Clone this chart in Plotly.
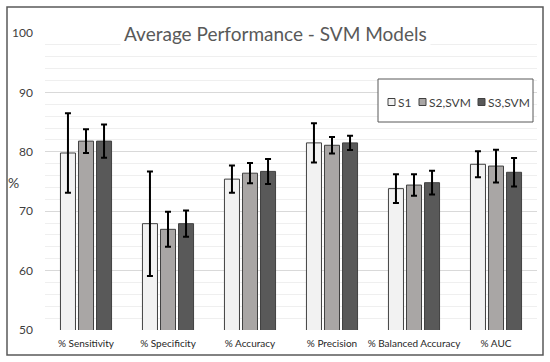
import plotly.graph_objects as go

categories = ["% Sensitivity", "% Specificity", "% Accuracy", "% Precision", "% Balanced Accuracy", "% AUC"]
series_names = ["S1", "S2,SVM", "S3,SVM"]
s1_values = [79.8, 67.9, 75.4, 81.5, 73.8, 77.9]
s1_errors = [6.7, 8.8, 2.3, 3.3, 2.4, 2.2]
s2_values = [81.8, 66.95, 76.4, 81.1, 74.4, 77.6]
s2_errors = [2.0, 2.95, 1.7, 1.4, 1.8, 2.75]
s3_values = [81.8, 67.9, 76.7, 81.5, 74.8, 76.55]
s3_errors = [2.8, 2.2, 2.1, 1.2, 2.0, 2.4]
y_ticks = [50, 60, 70, 80, 90, 100]

colors = ["#F2F2F2", "#A9A6A5", "#595959"]
values = [s1_values, s2_values, s3_values]
errors = [s1_errors, s2_errors, s3_errors]

fig = go.Figure()
for name, vals, errs, col in zip(series_names, values, errors, colors):
    fig.add_trace(go.Bar(
        name=name, x=categories, y=vals, showlegend=False,
        marker=dict(color=col, line=dict(color="#404040", width=1)),
        error_y=dict(type="data", array=errs, visible=True, color="#000000", thickness=2, width=3),
    ))

L, R, T, B = 45, 13, 33, 32
W, H = 550, 362
pw, ph = W - L - R, H - T - B

def px(x):
    return (x - L) / pw

def py(y):
    return (H - B - y) / ph

FONT = "Lato"

shapes = [
    dict(type="rect", xref="paper", yref="paper", x0=px(7), x1=px(543), y0=py(355), y1=py(7),
         line=dict(color="#595959", width=1.5), fillcolor="rgba(0,0,0,0)", layer="above"),
    dict(type="rect", xref="paper", yref="paper", x0=px(378), x1=px(533), y0=py(122), y1=py(79),
         line=dict(color="#595959", width=1), fillcolor="white", layer="above"),
]
annotations = [
    dict(text="Average Performance - SVM Models", xref="paper", yref="paper",
         x=px(275), y=py(34), xanchor="center", yanchor="middle", showarrow=False,
         font=dict(size=19, color="#595959", family=FONT), bgcolor="white", borderpad=3),
    dict(text="%", xref="paper", yref="paper", x=px(13), y=py(182), xanchor="center",
         yanchor="middle", showarrow=False, font=dict(size=14, color="#404040", family=FONT)),
]

# legend (manual, compact like the original)
legend_x = [388, 419, 478]
for name, col, lx in zip(series_names, colors, legend_x):
    shapes.append(dict(type="rect", xref="paper", yref="paper", x0=px(lx), x1=px(lx + 7),
                       y0=py(105.5), y1=py(98.5), line=dict(color="#404040", width=1),
                       fillcolor=col, layer="above"))
    annotations.append(dict(text=name, xref="paper", yref="paper", x=px(lx + 8), y=py(102),
                            xanchor="left", yanchor="middle", showarrow=False,
                            font=dict(size=12, color="#404040", family=FONT)))

fig.update_layout(
    width=W, height=H,
    margin=dict(l=L, r=R, t=T, b=B),
    paper_bgcolor="white", plot_bgcolor="white",
    barmode="group", bargap=0.34, bargroupgap=0.167,
    font=dict(family=FONT, color="#404040"),
    showlegend=False,
    xaxis=dict(showgrid=False, showline=False, ticks="", tickangle=0, automargin=False,
               tickfont=dict(size=10, color="#262626", family=FONT), ticklabelstandoff=6),
    yaxis=dict(range=[50, 100], tickvals=y_ticks, showgrid=True, gridcolor="#D9D9D9", gridwidth=1,
               zeroline=False, showline=False, ticks="", automargin=False,
               tickfont=dict(size=12, color="#404040", family=FONT),
               ticklabelstandoff=11,
               minor=dict(dtick=2, showgrid=True, gridcolor="#EFEFEF", gridwidth=1)),
    shapes=shapes,
    annotations=annotations,
)

fig.write_html("out.html", config={"displayModeBar": False},
               post_script="document.body.style.margin='0';")
